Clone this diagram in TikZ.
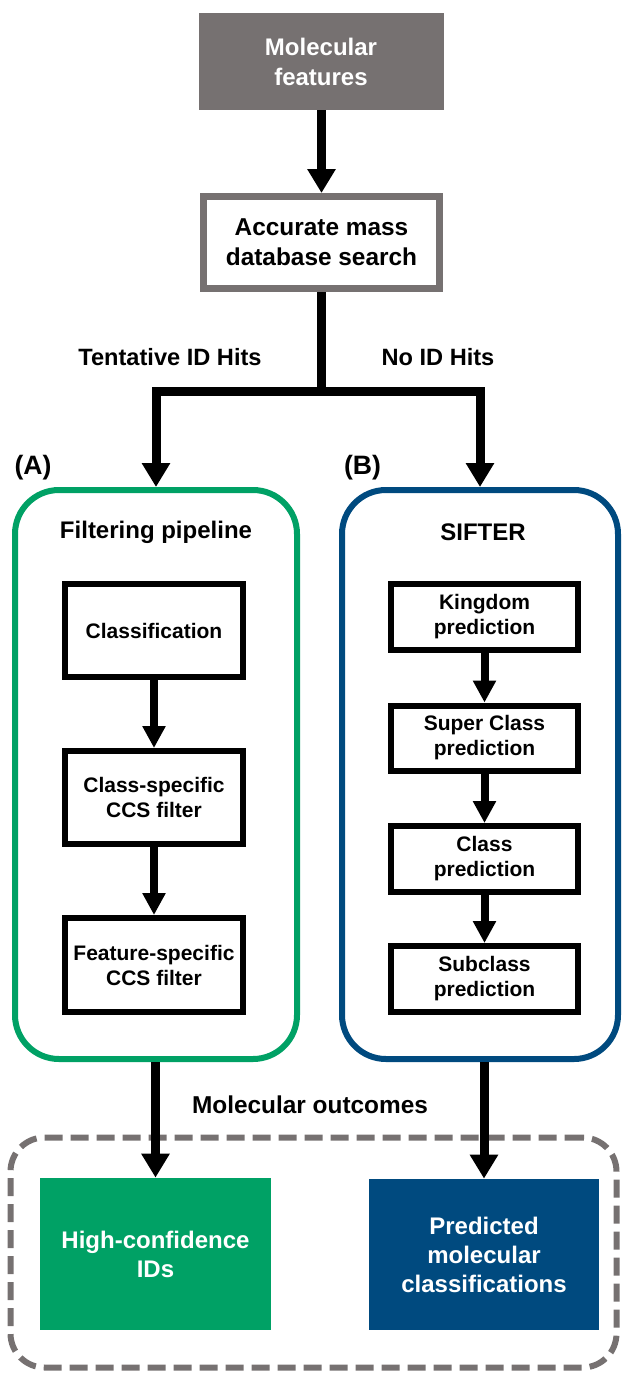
\documentclass[tikz,border=0pt]{standalone}
\usepackage{fontspec}
\setmainfont{Liberation Sans}
\usetikzlibrary{arrows.meta,positioning}

\begin{document}
\begin{tikzpicture}[x=0.5pt, y=-0.5pt,
        flow/.style={line width=4.5pt, -{Triangle[width=13.5pt,length=12pt]}},
        smallflow/.style={line width=4pt, -{Triangle[width=11pt,length=11pt]}},
        stepbox/.style={draw, line width=3pt, align=center, inner sep=0pt,
            font=\bfseries\fontsize{10.5}{12.5}\selectfont},
        outbox/.style={text=white, align=center, inner sep=0pt,
            font=\bfseries\fontsize{12}{14.5}\selectfont},
        label/.style={font=\bfseries\fontsize{11.8}{14}\selectfont}]
        % --- CONFIGURATION ---
        \definecolor{featGray}{RGB}{118, 113, 113}   % gris
        \definecolor{filterGreen}{RGB}{0, 161, 101}  % vert
        \definecolor{sifterBlue}{RGB}{0, 74, 127}    % bleu

        \useasboundingbox (0,0) rectangle (622,1373);

        % --- ENTREE ---
        \node[fill=featGray, outbox, minimum width=122.5pt, minimum height=48.5pt,
            font=\bfseries\fontsize{12}{15}\selectfont] (feat) at (321,61.5) {Molecular\\features};
        \node[draw=featGray, line width=3.5pt, align=center, minimum width=118pt, minimum height=46pt,
            font=\bfseries\fontsize{12.2}{15}\selectfont] (search) at (321.5,242.5) {Accurate mass\\database search};
        \draw[flow] (feat.south -| search.north) -- (search.north);

        % Branches
        \coordinate (split) at (321.5,391);
        \node[label] (tent) at (170,357) {Tentative ID Hits};
        \node[label] (noid) at (438,357) {No ID Hits};

        % --- (A) FILTRAGE ---
        \node[draw=filterGreen, line width=3pt, rounded corners=22pt,
            minimum width=141pt, minimum height=284.5pt] (pipeA) at (156,774.5) {};
        \node[font=\bfseries\fontsize{13.3}{15}\selectfont] (labA) at (33,468) {(A)};
        \node[font=\bfseries\fontsize{12}{14}\selectfont] (titleA) at (156,532) {Filtering pipeline};
        \node[stepbox, minimum width=89pt, minimum height=46.5pt] (cls) at (154,630.5) {Classification};
        \node[stepbox, minimum width=89pt, minimum height=46.5pt] (ccsA) at (154,797.5) {Class-specific\\CCS filter};
        \node[stepbox, minimum width=89pt, minimum height=47pt] (ccsB) at (154,965) {Feature-specific\\CCS filter};
        \draw[smallflow] (cls) -- (ccsA);
        \draw[smallflow] (ccsA) -- (ccsB);

        % --- (B) SIFTER ---
        \node[draw=sifterBlue, line width=3pt, rounded corners=22pt,
            minimum width=138pt, minimum height=284.5pt] (pipeB) at (480,774.5) {};
        \node[font=\bfseries\fontsize{13.3}{15}\selectfont] (labB) at (362.5,468) {(B)};
        \node[font=\bfseries\fontsize{12}{14}\selectfont] (titleB) at (483,532) {SIFTER};
        \node[stepbox, minimum width=93.5pt, minimum height=33pt] (king) at (484.5,617) {Kingdom\\prediction};
        \node[stepbox, minimum width=93.5pt, minimum height=32.5pt] (super) at (484.5,738) {Super Class\\prediction};
        \node[stepbox, minimum width=93.5pt, minimum height=33pt] (class) at (484.5,859) {Class\\prediction};
        \node[stepbox, minimum width=93.5pt, minimum height=33pt] (sub) at (484.5,979) {Subclass\\prediction};
        \draw[smallflow] (king) -- (super);
        \draw[smallflow] (super) -- (class);
        \draw[smallflow] (class) -- (sub);

        \draw[flow] (search.south) -- (split) -| (pipeA.north);
        \draw[flow] (split) -| (pipeB.north);

        % --- RESULTATS ---
        \node[draw=featGray, line width=3pt, dash pattern=on 9pt off 4pt, rounded corners=17pt,
            minimum width=303pt, minimum height=115pt] (outcome) at (313.5,1252.5) {};
        \node[font=\bfseries\fontsize{12.2}{14}\selectfont] (molout) at (310,1105) {Molecular outcomes};
        \node[fill=filterGreen, outbox, minimum width=115.5pt, minimum height=76pt] (hi) at (155.5,1254) {High-confidence\\IDs};
        \node[fill=sifterBlue, outbox, minimum width=115pt, minimum height=75.5pt] (pred) at (484,1254.5) {Predicted\\molecular\\classifications};
        \draw[flow] (pipeA.south -| hi.north) -- (hi.north);
        \draw[flow] (pipeB.south -| pred.north) -- (pred.north);
    \end{tikzpicture}
\end{document}
